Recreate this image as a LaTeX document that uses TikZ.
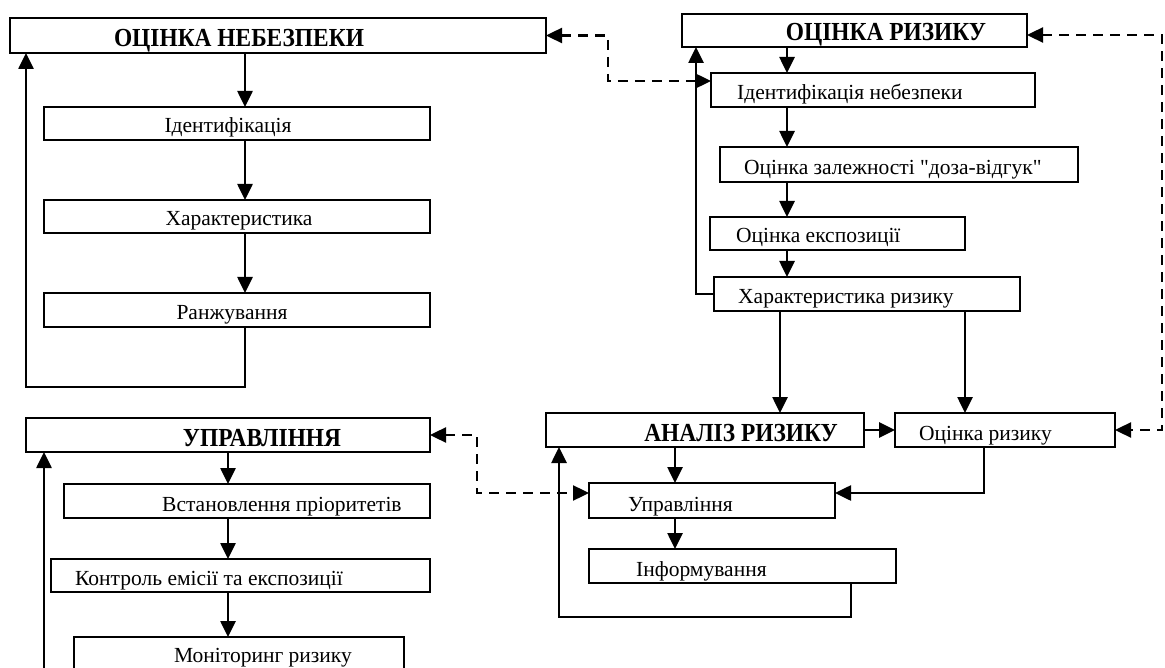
\documentclass[tikz,border=0pt]{standalone}
\usepackage{fontspec}
\setmainfont{Liberation Serif}
\usetikzlibrary{arrows.meta}
\newcommand\mybox[5]{\node[bx,anchor=north west,minimum width={(#4-#2)*1pt},minimum height={(#5-#3)*1pt}] (#1) at (#2,#3) {};}
\newcommand\narrowbold[1]{\scalebox{0.9}[1]{#1}}
\newcommand\straightquote{\XeTeXglyph\XeTeXcharglyph"0022\relax}
\begin{document}
\begin{tikzpicture}[x=1pt,y=-1pt,
  bx/.style={draw,line width=2pt,inner sep=0pt,outer sep=0pt},
  tx/.style={inner sep=0pt,font=\fontsize{21.5}{25}\selectfont},
  tb/.style={inner sep=0pt,font=\fontsize{26}{30}\selectfont\bfseries},
  arr/.style={line width=2.6pt,-{Triangle[length=16pt,width=15pt]}},
  dsh/.style={line width=2.4pt,dash pattern=on 10pt off 7pt,{Triangle[length=16pt,width=15pt]}-{Triangle[length=16pt,width=15pt]}}]
\useasboundingbox (0,0) rectangle (1165,668);
% ---- boxes
\mybox{onb}{10}{18}{546}{53}
\mybox{id1}{44}{107}{430}{140}
\mybox{ch1}{44}{200}{430}{233}
\mybox{rz1}{44}{293}{430}{327}
\mybox{orz}{682}{14}{1027}{47}
\mybox{idn}{711}{73}{1035}{107}
\mybox{zal}{720}{147}{1078}{182}
\mybox{exs}{710}{217}{965}{250}
\mybox{hrz}{714}{277}{1020}{311}
\mybox{anr}{546}{413}{864}{447}
\mybox{ocr}{895}{413}{1115}{447}
\mybox{upr}{589}{483}{835}{518}
\mybox{inf}{589}{549}{896}{583}
\mybox{UPR}{26}{418}{430}{452}
\mybox{vst}{64}{484}{430}{518}
\mybox{kon}{51}{559}{430}{592}
\mybox{mon}{74}{637}{404}{690}
% ---- texts
\node[tb,anchor=base] (tonb) at (239,47) {\narrowbold{ОЦІНКА НЕБЕЗПЕКИ}};
\node[tx,anchor=base] (tid1) at (228,133) {Ідентифікація};
\node[tx,anchor=base] (tch1) at (239,226) {Характеристика};
\node[tx,anchor=base] (trz1) at (232,320) {Ранжування};
\node[tb,anchor=base] (torz) at (886,41) {\narrowbold{ОЦІНКА РИЗИКУ}};
\node[tx,anchor=base west] (tidn) at (737,100) {Ідентифікація небезпеки};
\node[tx,anchor=base west] (tzal) at (744,175) {Оцінка залежності \straightquote доза-відгук\straightquote};
\node[tx,anchor=base west] (texs) at (736,243) {Оцінка експозиції};
\node[tx,anchor=base west] (thrz) at (738,304) {Характеристика ризику};
\node[tb,anchor=base] (tanr) at (741,441) {\narrowbold{АНАЛІЗ РИЗИКУ}};
\node[tx,anchor=base west] (tocr) at (919,440) {Оцінка ризику};
\node[tx,anchor=base west] (tupr) at (628,511) {Управління};
\node[tx,anchor=base west] (tinf) at (636,576) {Інформування};
\node[tb,anchor=base] (tUPR) at (262,446) {\narrowbold{УПРАВЛІННЯ}};
\node[tx,anchor=base west] (tvst) at (162,511) {Встановлення пріоритетів};
\node[tx,anchor=base west] (tkon) at (75,585) {Контроль емісії та експозиції};
\node[tx,anchor=base] (tmon) at (263,662) {Моніторинг ризику};
% ---- helper coordinates
\coordinate (xA) at (245,0);
\coordinate (lpA) at (26,387);
\coordinate (xB) at (787,0);
\coordinate (xC) at (696,0);
\coordinate (xD) at (780,0);
\coordinate (xE) at (965,0);
\coordinate (xF) at (675,0);
\coordinate (xG) at (984,493);
\coordinate (lpB) at (851,617);
\coordinate (xH) at (559,0);
\coordinate (xI) at (228,0);
\coordinate (bL) at (44,680);
\coordinate (dR) at (1162,0);
\coordinate (dL) at (608,0);
\coordinate (dM) at (477,0);
% ---- left top group
\draw[arr] (onb.south -| xA) -- (id1.north -| xA);
\draw[arr] (id1.south -| xA) -- (ch1.north -| xA);
\draw[arr] (ch1.south -| xA) -- (rz1.north -| xA);
\draw[arr] (rz1.south -| xA) |- (lpA) -- (onb.south -| lpA);
% ---- right top group
\draw[arr] (orz.south -| xB) -- (idn.north -| xB);
\draw[arr] (idn.south -| xB) -- (zal.north -| xB);
\draw[arr] (zal.south -| xB) -- (exs.north -| xB);
\draw[arr] (exs.south -| xB) -- (hrz.north -| xB);
\draw[arr] (hrz.west) -| (orz.south -| xC);
\draw[arr] (hrz.south -| xD) -- (anr.north -| xD);
\draw[arr] (hrz.south -| xE) -- (ocr.north -| xE);
% ---- analysis group
\draw[arr] (anr.east) -- (ocr.west);
\draw[arr] (anr.south -| xF) -- (upr.north -| xF);
\draw[arr] (upr.south -| xF) -- (inf.north -| xF);
\draw[arr] (ocr.south -| xG) |- ([yshift=7.5pt]upr.east);
\draw[arr] (inf.south -| lpB) |- (lpB) -| (anr.south -| xH);
% ---- management group
\draw[arr] (UPR.south -| xI) -- (vst.north -| xI);
\draw[arr] (vst.south -| xI) -- (kon.north -| xI);
\draw[arr] (kon.south -| xI) -- (mon.north -| xI);
\draw[arr] (bL) -- (UPR.south -| bL);
% ---- dashed links
\draw[dsh] (onb.east) -| (dL |- onb.east) |- ([yshift=9pt]idn.west);
\draw[dsh] ([yshift=-4.5pt]orz.east) -| (dR |- ocr.east) -- (ocr.east);
\draw[dsh] (UPR.east) -| (dM |- UPR.east) |- ([yshift=7.5pt]upr.west);
\end{tikzpicture}
\end{document}
